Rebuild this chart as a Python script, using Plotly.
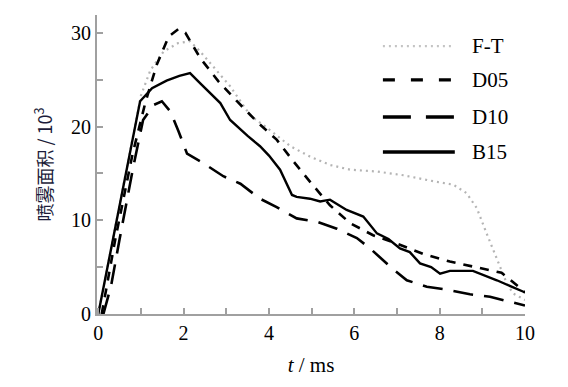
import plotly.graph_objects as go

# ---- data ----
ft_t = [0, 0.5, 1.0, 1.22, 1.53, 1.87, 2.15, 2.39, 2.78, 3.09, 3.56, 4.03, 4.5, 4.96, 5.43, 5.9, 6.53, 7.15, 7.93, 8.32, 8.63, 8.87, 9.1, 9.34, 9.57, 9.72, 10.0]
ft_v = [0, 11.5, 23.3, 26.0, 28.0, 28.9, 29.1, 28.0, 26.0, 24.3, 21.2, 19.6, 17.9, 16.8, 15.9, 15.4, 15.2, 14.8, 14.1, 13.8, 12.9, 11.3, 8.6, 5.8, 3.3, 2.2, 1.5]

d05_t = [0.08, 0.4, 0.8, 1.1, 1.37, 1.65, 1.88, 2.04, 2.39, 2.82, 3.25, 3.72, 4.18, 4.57, 5.0, 5.43, 5.9, 6.44, 7.0, 7.62, 8.24, 8.87, 9.45, 9.88, 10.0]
d05_v = [0, 8, 17, 22.5, 26.6, 29.6, 30.4, 30.0, 27.3, 24.8, 22.7, 20.5, 18.6, 16.3, 13.9, 11.6, 9.7, 8.4, 7.5, 6.4, 5.6, 5.0, 4.4, 2.8, 2.3]

d10_t = [0.12, 0.3, 0.5, 0.82, 1.05, 1.3, 1.49, 1.69, 1.88, 2.08, 2.46, 2.93, 3.33, 3.79, 4.18, 4.65, 5.12, 5.59, 6.06, 6.37, 6.84, 7.23, 7.7, 8.17, 8.71, 9.18, 9.65, 10.0]
d10_v = [0, 3, 8, 15.7, 20.7, 22.3, 22.7, 21.6, 19.5, 17.1, 16.1, 14.7, 13.9, 12.3, 11.4, 10.2, 9.85, 9.1, 8.1, 7.0, 5.05, 3.6, 2.9, 2.6, 2.1, 1.85, 1.3, 0.9]

b15_t = [0, 0.35, 0.7, 0.98, 1.26, 1.6, 1.9, 2.15, 2.39, 2.86, 3.09, 3.25, 3.5, 3.79, 4.0, 4.26, 4.54, 4.65, 4.96, 5.2, 5.43, 5.82, 6.21, 6.53, 6.8, 7.07, 7.3, 7.54, 7.8, 8.01, 8.24, 8.78, 9.34, 9.95, 10.0]
b15_v = [0, 8.2, 16.4, 22.7, 24.1, 24.9, 25.4, 25.7, 24.6, 22.5, 20.7, 20.0, 19.0, 17.9, 16.9, 15.4, 12.7, 12.5, 12.3, 12.0, 12.2, 11.1, 10.4, 8.6, 8.0, 7.0, 6.6, 5.4, 5.0, 4.3, 4.6, 4.6, 3.6, 2.4, 2.3]

series_names = ["F-T", "D05", "D10", "B15"]
x_ticks = [0, 2, 4, 6, 8, 10]
y_ticks = [0, 10, 20, 30]

styles = {
    "F-T": dict(color="#b4b4b4", width=2.2, dash="2px,4px"),
    "D05": dict(color="black", width=2.6, dash="9px,8px"),
    "D10": dict(color="black", width=2.6, dash="20px,11px"),
    "B15": dict(color="black", width=2.4, dash="solid"),
}
data = {"F-T": (ft_t, ft_v), "D05": (d05_t, d05_v), "D10": (d10_t, d10_v), "B15": (b15_t, b15_v)}

fig = go.Figure()
for name in series_names:
    t, v = data[name]
    fig.add_trace(go.Scatter(x=t, y=v, mode="lines", name=name, line=styles[name], showlegend=False))

# manual legend (long line samples as in reference)
leg_y = [0.896, 0.783, 0.659, 0.542]
leg_styles = {
    "F-T": dict(color="#c4c4c4", width=2.2, dash="2px,4px"),
    "D05": dict(color="black", width=3.2, dash="12px,16px"),
    "D10": dict(color="black", width=3.6, dash="28px,15px"),
    "B15": dict(color="black", width=3.6, dash="solid"),
}
for name, yy in zip(series_names, leg_y):
    fig.add_shape(type="line", xref="paper", yref="paper", x0=0.668, x1=0.836, y0=yy, y1=yy,
                  line=leg_styles[name])
    fig.add_annotation(xref="paper", yref="paper", x=0.872, y=yy, text=name, showarrow=False,
                       xanchor="left", yanchor="middle",
                       font=dict(family="Liberation Serif", size=21, color="black"))

axis_common = dict(
    showline=True, linecolor="#a0a0a0", linewidth=2.2, showgrid=False, zeroline=False,
    ticks="inside", ticklen=6, tickwidth=2, tickcolor="#a0a0a0",
    tickfont=dict(family="Liberation Serif", size=20, color="black"),
    mirror=False,
)
fig.update_xaxes(range=[-0.03, 10.0], tickvals=x_ticks, ticktext=[str(v) for v in x_ticks],
                 minor=dict(dtick=1, ticks="inside", ticklen=6, tickcolor="#a0a0a0", tickwidth=2),
                 title=dict(text="<i>t</i> / ms", font=dict(family="Liberation Serif", size=21, color="black"), standoff=14),
                 **axis_common)
fig.update_yaxes(range=[0, 31.9], tickvals=y_ticks, ticktext=[str(v) for v in y_ticks],
                 minor=dict(dtick=5, ticks="inside", ticklen=6, tickcolor="#a0a0a0", tickwidth=2),
                 title=dict(text="喷雾面积 / 10<sup>3</sup>", font=dict(family="Noto Sans CJK SC", size=18, color="#1c1c3a"), standoff=14),
                 **axis_common)

# page body has an 8px default margin; size figure to fill the remaining window
fig.update_layout(
    width=560, height=379,
    margin=dict(l=89, r=43, t=7, b=73),
    paper_bgcolor="white", plot_bgcolor="white",
    showlegend=False,
)
fig.write_html("out.html")
